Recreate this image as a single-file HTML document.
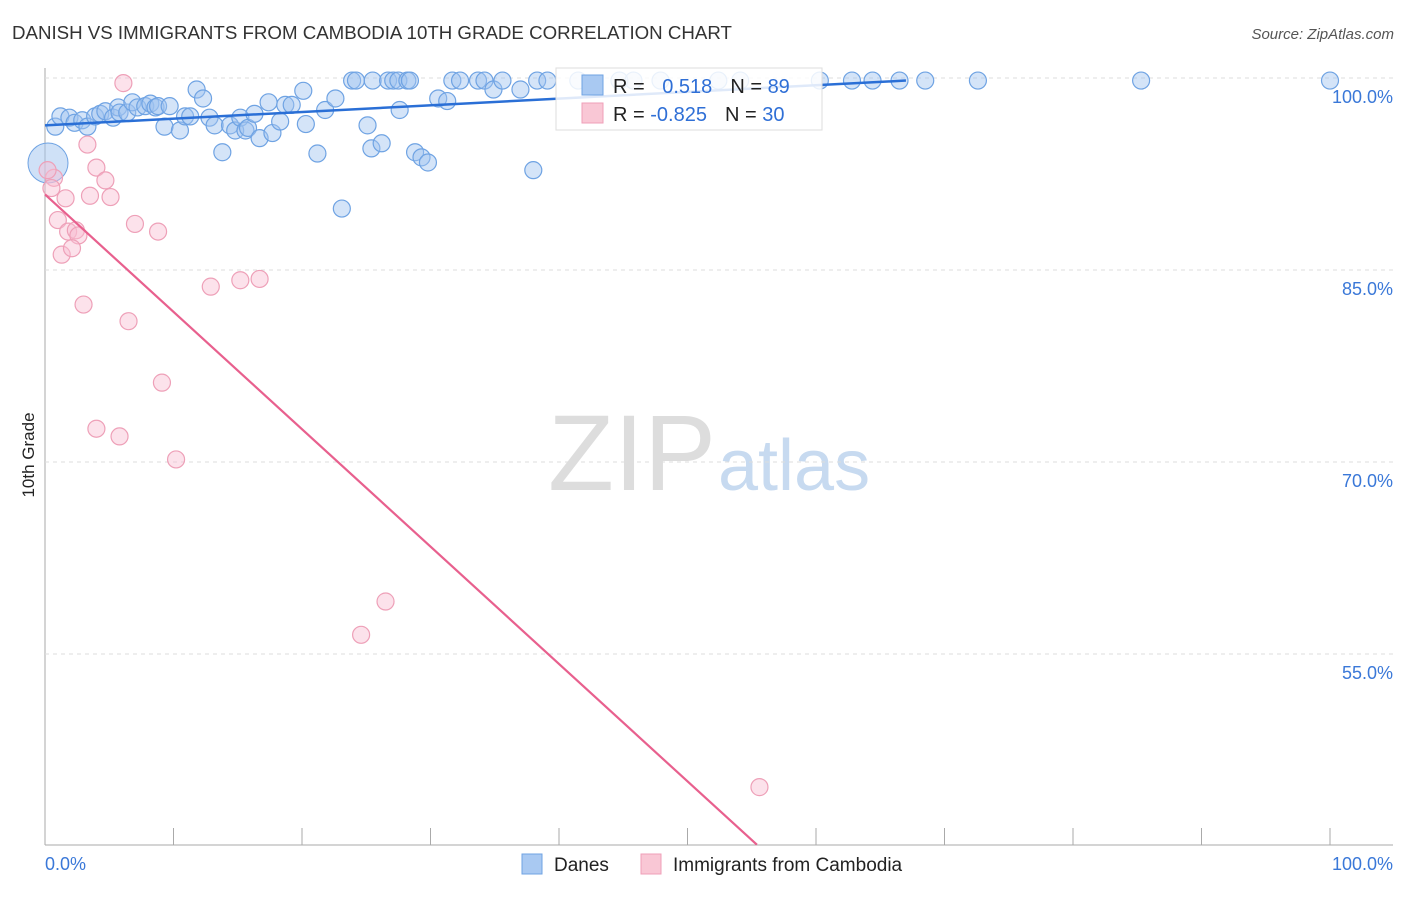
<!DOCTYPE html>
<html><head><meta charset="utf-8"><style>
body{margin:0;background:#fff;font-family:"Liberation Sans",sans-serif}
svg text{font-family:"Liberation Sans",sans-serif}
</style></head><body>
<svg id="chart" width="1406" height="892">
<text x="12" y="39" font-size="18.7" fill="#333">DANISH VS IMMIGRANTS FROM CAMBODIA 10TH GRADE CORRELATION CHART</text>
<text x="1394" y="39" font-size="15" fill="#555" font-style="italic" text-anchor="end">Source: ZipAtlas.com</text>
<text x="716" y="490" font-size="108" fill="#ddd" text-anchor="end" font-family="Liberation Serif">ZIP</text>
<text x="718" y="490" font-size="72" fill="#c7daf0">atlas</text>
<text transform="translate(34,455) rotate(-90)" font-size="17" fill="#222" text-anchor="middle">10th Grade</text>
<g id="grid"></g><g id="ticks"></g><g id="marks"></g>
<g>
<rect x="556" y="68" width="266" height="62" fill="#fff" fill-opacity="0.85" stroke="#ddd"/>
<rect x="582" y="75" width="21" height="20" fill="#a9c9f2" stroke="#6fa3e3"/>
<rect x="582" y="103" width="21" height="20" fill="#f9c7d5" stroke="#ef9fb8"/>
<text x="613" y="93" font-size="20" fill="#222">R = <tspan fill="#2f6fd6" dx="12">0.518</tspan><tspan dx="18">N = </tspan><tspan fill="#2f6fd6">89</tspan></text>
<text x="613" y="121" font-size="20" fill="#222">R = <tspan fill="#2f6fd6">-0.825</tspan><tspan dx="18">N = </tspan><tspan fill="#2f6fd6">30</tspan></text>
</g>
<g>
<rect x="522" y="854" width="20" height="20" fill="#a9c9f2" stroke="#6fa3e3"/>
<text x="554" y="871" font-size="19" fill="#222">Danes</text>
<rect x="641" y="854" width="20" height="20" fill="#f9c7d5" stroke="#ef9fb8"/>
<text x="673" y="871" font-size="19" fill="#222">Immigrants from Cambodia</text>
</g>
</svg>
<script>
const blueX=[0.8,1.2,1.9,2.3,2.9,3.3,3.9,4.3,4.7,5.3,5.7,5.8,6.4,6.8,7.2,7.8,8.2,8.6,8.8,9.3,9.7,10.5,10.9,11.3,11.8,12.3,12.8,13.2,13.8,14.4,14.8,15.2,15.6,15.8,16.3,16.7,17.4,17.7,18.3,18.7,19.2,20.1,20.3,21.2,21.8,22.6,23.1,23.9,24.2,25.1,25.4,25.5,26.2,26.7,27.1,27.5,27.6,28.2,28.4,28.8,29.3,29.8,30.6,31.3,31.7,32.3,33.7,34.2,34.9,35.6,37.0,38.0,38.3,39.1,41.5,44.7,45.8,47.9,52.4,54.1,60.3,62.8,64.4,66.5,68.5,72.6,85.3,100];
const blueY=[96.2,97.0,96.9,96.5,96.7,96.2,97.0,97.2,97.4,96.9,97.7,97.3,97.3,98.1,97.7,97.8,98.0,97.7,97.8,96.2,97.8,95.9,97.0,97.0,99.1,98.4,96.9,96.3,94.2,96.3,95.9,96.9,95.9,96.1,97.2,95.3,98.1,95.7,96.6,97.9,97.9,99.0,96.4,94.1,97.5,98.4,89.8,99.8,99.8,96.3,94.5,99.8,94.9,99.8,99.8,99.8,97.5,99.8,99.8,94.2,93.8,93.4,98.4,98.2,99.8,99.8,99.8,99.8,99.1,99.8,99.1,92.8,99.8,99.8,99.8,99.8,99.8,99.8,99.8,99.8,99.8,99.8,99.8,99.8,99.8,99.8,99.8,99.8];
const pinkX=[6.1,3.3,4.0,4.7,3.5,5.1,7.0,8.8,0.7,0.5,1.6,1.0,1.8,2.4,2.6,1.3,2.1,3.0,6.5,12.9,15.2,16.7,9.1,4.0,5.8,10.2,24.6,26.5,55.6,0.2];
const pinkY=[99.6,94.8,93.0,92.0,90.8,90.7,88.6,88.0,92.2,91.4,90.6,88.9,88.0,88.1,87.7,86.2,86.7,82.3,81.0,83.7,84.2,84.3,76.2,72.6,72.0,70.2,56.5,59.1,44.6,92.8];
const blueTrendX=[0,67];const blueTrendY=[96.3,99.8];
const pinkTrendX=[0,55.4];const pinkTrendY=[90.9,40.1];
const yTicks=[100,85,70,55];
const xTicks=[0,10,20,30,40,50,60,70,80,90,100];
const NS='http://www.w3.org/2000/svg';
const sx=v=>45+v*12.85, sy=v=>78+(100-v)*12.8;
function mk(t,a,p){const e=document.createElementNS(NS,t);for(const k in a)e.setAttribute(k,a[k]);p.appendChild(e);return e;}
const grid=document.getElementById('grid'),ticks=document.getElementById('ticks'),marks=document.getElementById('marks');
mk('line',{x1:45,y1:68,x2:45,y2:845,stroke:'#aaa'},grid);
mk('line',{x1:45,y1:845,x2:1393,y2:845,stroke:'#aaa'},grid);
yTicks.forEach(v=>{
 const l=mk('line',{x1:45,x2:1393,y1:sy(v),y2:sy(v),stroke:'#ddd','stroke-dasharray':'4,4'},grid);
 
 
 const t=mk('text',{x:1393,y:sy(v)+25,'font-size':18,fill:'#3a78d8','text-anchor':'end'},ticks);
 t.textContent=v.toFixed(1)+'%';
 
 
});
xTicks.forEach(v=>{
 const l=mk('line',{x1:sx(v),x2:sx(v),y1:828,y2:845,stroke:'#aaa'},ticks);
 
 
});
[[0,'0.0%','start',45],[100,'100.0%','end',1393]].forEach(d=>{
 const t=mk('text',{x:d[3],y:870,'font-size':18,fill:'#3a78d8','text-anchor':d[2]},ticks);
 t.textContent=d[1];
 
 
});
const big=mk('circle',{cx:48,cy:163,r:20,fill:'rgba(160,196,240,0.5)',stroke:'#6fa3e3'},marks);


blueX.forEach((x,i)=>{
 const c=mk('circle',{cx:sx(x),cy:sy(blueY[i]),r:8.5,fill:'rgba(160,196,240,0.45)',stroke:'#6fa3e3','stroke-width':1.2},marks);
 
 
});
pinkX.forEach((x,i)=>{
 const c=mk('circle',{cx:sx(x),cy:sy(pinkY[i]),r:8.5,fill:'rgba(248,190,210,0.45)',stroke:'#eea0b8','stroke-width':1.2},marks);
 
 
});
const bl=mk('line',{x1:sx(blueTrendX[0]),y1:sy(blueTrendY[0]),x2:sx(blueTrendX[1]),y2:sy(blueTrendY[1]),stroke:'#2a6fd6','stroke-width':2.5},marks);


const pl=mk('line',{x1:sx(pinkTrendX[0]),y1:sy(pinkTrendY[0]),x2:sx(pinkTrendX[1]),y2:sy(pinkTrendY[1]),stroke:'#e8608e','stroke-width':2.2},marks);


</script>
</body></html>
